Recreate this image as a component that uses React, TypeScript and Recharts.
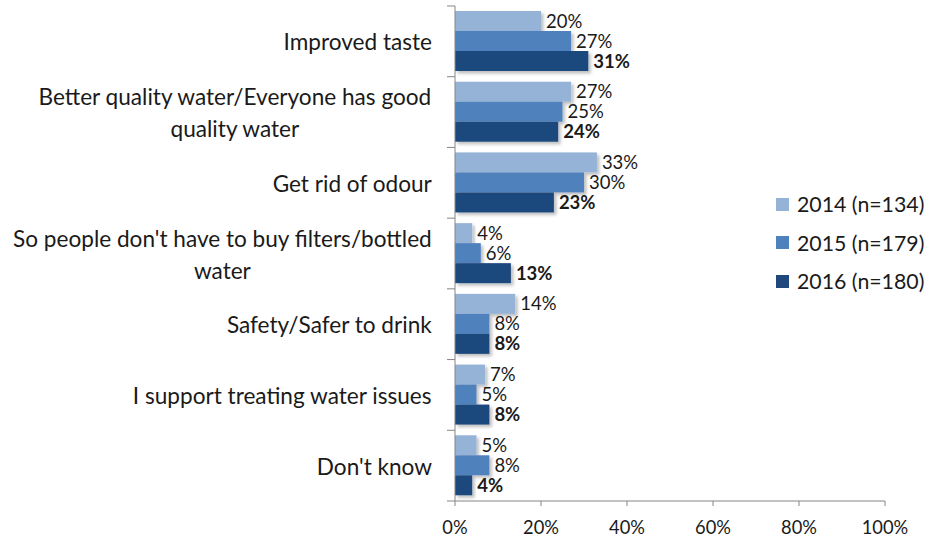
import React from 'react';
import { BarChart, Bar, XAxis, YAxis, LabelList } from 'recharts';

// Reasons for supporting treatment, share of respondents per survey year
const categories = [
  'Improved taste',
  'Better quality water/Everyone has good\nquality water',
  'Get rid of odour',
  "So people don't have to buy filters/bottled\nwater",
  'Safety/Safer to drink',
  'I support treating water issues',
  "Don't know",
];
const values2014 = [20, 27, 33, 4, 14, 7, 5];
const values2015 = [27, 25, 30, 6, 8, 5, 8];
const values2016 = [31, 24, 23, 13, 8, 8, 4];
const xTicks = [0, 20, 40, 60, 80, 100];

const SERIES = [
  { key: 'y2014', name: '2014 (n=134)', color: '#95B3D7', bold: false },
  { key: 'y2015', name: '2015 (n=179)', color: '#4F81BD', bold: false },
  { key: 'y2016', name: '2016 (n=180)', color: '#1F497D', bold: true },
];

const FONT = 'Lato, "Open Sans", sans-serif';
const W = 930;
const H = 539;
const MARGIN = { top: 6, right: 45, bottom: 0, left: 0 };
const Y_AXIS_W = 455;
const X_AXIS_H = 38;
const PLOT_H = H - MARGIN.top - MARGIN.bottom - X_AXIS_H;
const BAND = PLOT_H / categories.length;
const AXIS_COLOR = '#868686';
const TEXT_COLOR = '#1a1a1a';
const CAT_FONT = 22.6;
const LINE_H = 32;

const data = categories.map((name, i) => ({
  name,
  y2014: values2014[i],
  y2015: values2015[i],
  y2016: values2016[i],
}));

let ctx: CanvasRenderingContext2D | null = null;
const textWidth = (s: string) => {
  if (!ctx) ctx = document.createElement('canvas').getContext('2d');
  if (!ctx) return s.length * CAT_FONT * 0.5;
  ctx.font = `${CAT_FONT}px ${FONT}`;
  return ctx.measureText(s).width;
};

// category label: block right-aligned against the axis, lines centred in the block
const CategoryTick = (props: any) => {
  const { y, payload, index } = props;
  const axisX = Y_AXIS_W;
  const right = axisX - 23;
  const lines: string[] = String(payload.value).split('\n');
  const blockW = Math.max(...lines.map(textWidth));
  const cx = right - blockW / 2;
  const startY = y - ((lines.length - 1) * LINE_H) / 2;
  return (
    <g>
      <line x1={axisX - 8} x2={axisX} y1={y - BAND / 2} y2={y - BAND / 2} stroke={AXIS_COLOR} />
      {index === categories.length - 1 && (
        <line x1={axisX - 8} x2={axisX} y1={y + BAND / 2} y2={y + BAND / 2} stroke={AXIS_COLOR} />
      )}
      <text
        x={cx}
        y={startY}
        textAnchor="middle"
        dominantBaseline="central"
        fill={TEXT_COLOR}
        fontSize={CAT_FONT}
        fontFamily={FONT}
      >
        {lines.map((l, i) => (
          <tspan key={i} x={cx} y={startY + i * LINE_H}>
            {l}
          </tspan>
        ))}
      </text>
    </g>
  );
};

const ShadowBar = (p: any) => (
  <rect x={p.x} y={p.y} width={p.width} height={p.height} fill={p.fill} filter="url(#barShadow)" />
);

// legend sits over the empty right part of the plot, so it is laid out outside the chart
const LegendBox = () => (
  <div style={{ position: 'absolute', left: 776, top: 185, fontFamily: FONT, fontSize: 21.3, color: TEXT_COLOR }}>
    {SERIES.map((s) => (
      <div key={s.key} style={{ display: 'flex', alignItems: 'center', height: 38.5, whiteSpace: 'nowrap' }}>
        <span style={{ width: 13, height: 13, background: s.color, marginRight: 8, display: 'inline-block' }} />
        {s.name}
      </div>
    ))}
  </div>
);

export default function App() {
  return (
    <div style={{ position: 'absolute', left: 0, top: 0, width: W, height: H, background: '#fff' }}>
      <BarChart
        width={W}
        height={H}
        data={data}
        layout="vertical"
        margin={MARGIN}
        barSize={20}
        barGap={0}
      >
        <defs>
          <filter id="barShadow" x="-10%" y="-30%" width="130%" height="180%">
            <feDropShadow dx="2.5" dy="2.5" stdDeviation="1.5" floodColor="#000" floodOpacity="0.25" />
          </filter>
        </defs>
        <XAxis
          type="number"
          domain={[0, 100]}
          ticks={xTicks}
          tickFormatter={(v) => `${v}%`}
          height={X_AXIS_H}
          axisLine={{ stroke: AXIS_COLOR }}
          tickLine={{ stroke: AXIS_COLOR }}
          tickSize={5}
          tickMargin={15}
          tick={{ fill: TEXT_COLOR, fontSize: 18.3, fontFamily: FONT }}
        />
        <YAxis
          type="category"
          dataKey="name"
          width={Y_AXIS_W}
          axisLine={{ stroke: AXIS_COLOR }}
          tickLine={false}
          interval={0}
          tick={<CategoryTick />}
        />
        {SERIES.map((s) => (
          <Bar
            key={s.key}
            dataKey={s.key}
            name={s.name}
            fill={s.color}
            shape={<ShadowBar />}
            isAnimationActive={false}
          >
            <LabelList
              dataKey={s.key}
              position="right"
              offset={5}
              formatter={(v: any) => `${v}%`}
              style={{ fill: TEXT_COLOR, fontSize: 18.5, fontFamily: FONT, fontWeight: s.bold ? 700 : 400 }}
            />
          </Bar>
        ))}
      </BarChart>
      <LegendBox />
    </div>
  );
}
